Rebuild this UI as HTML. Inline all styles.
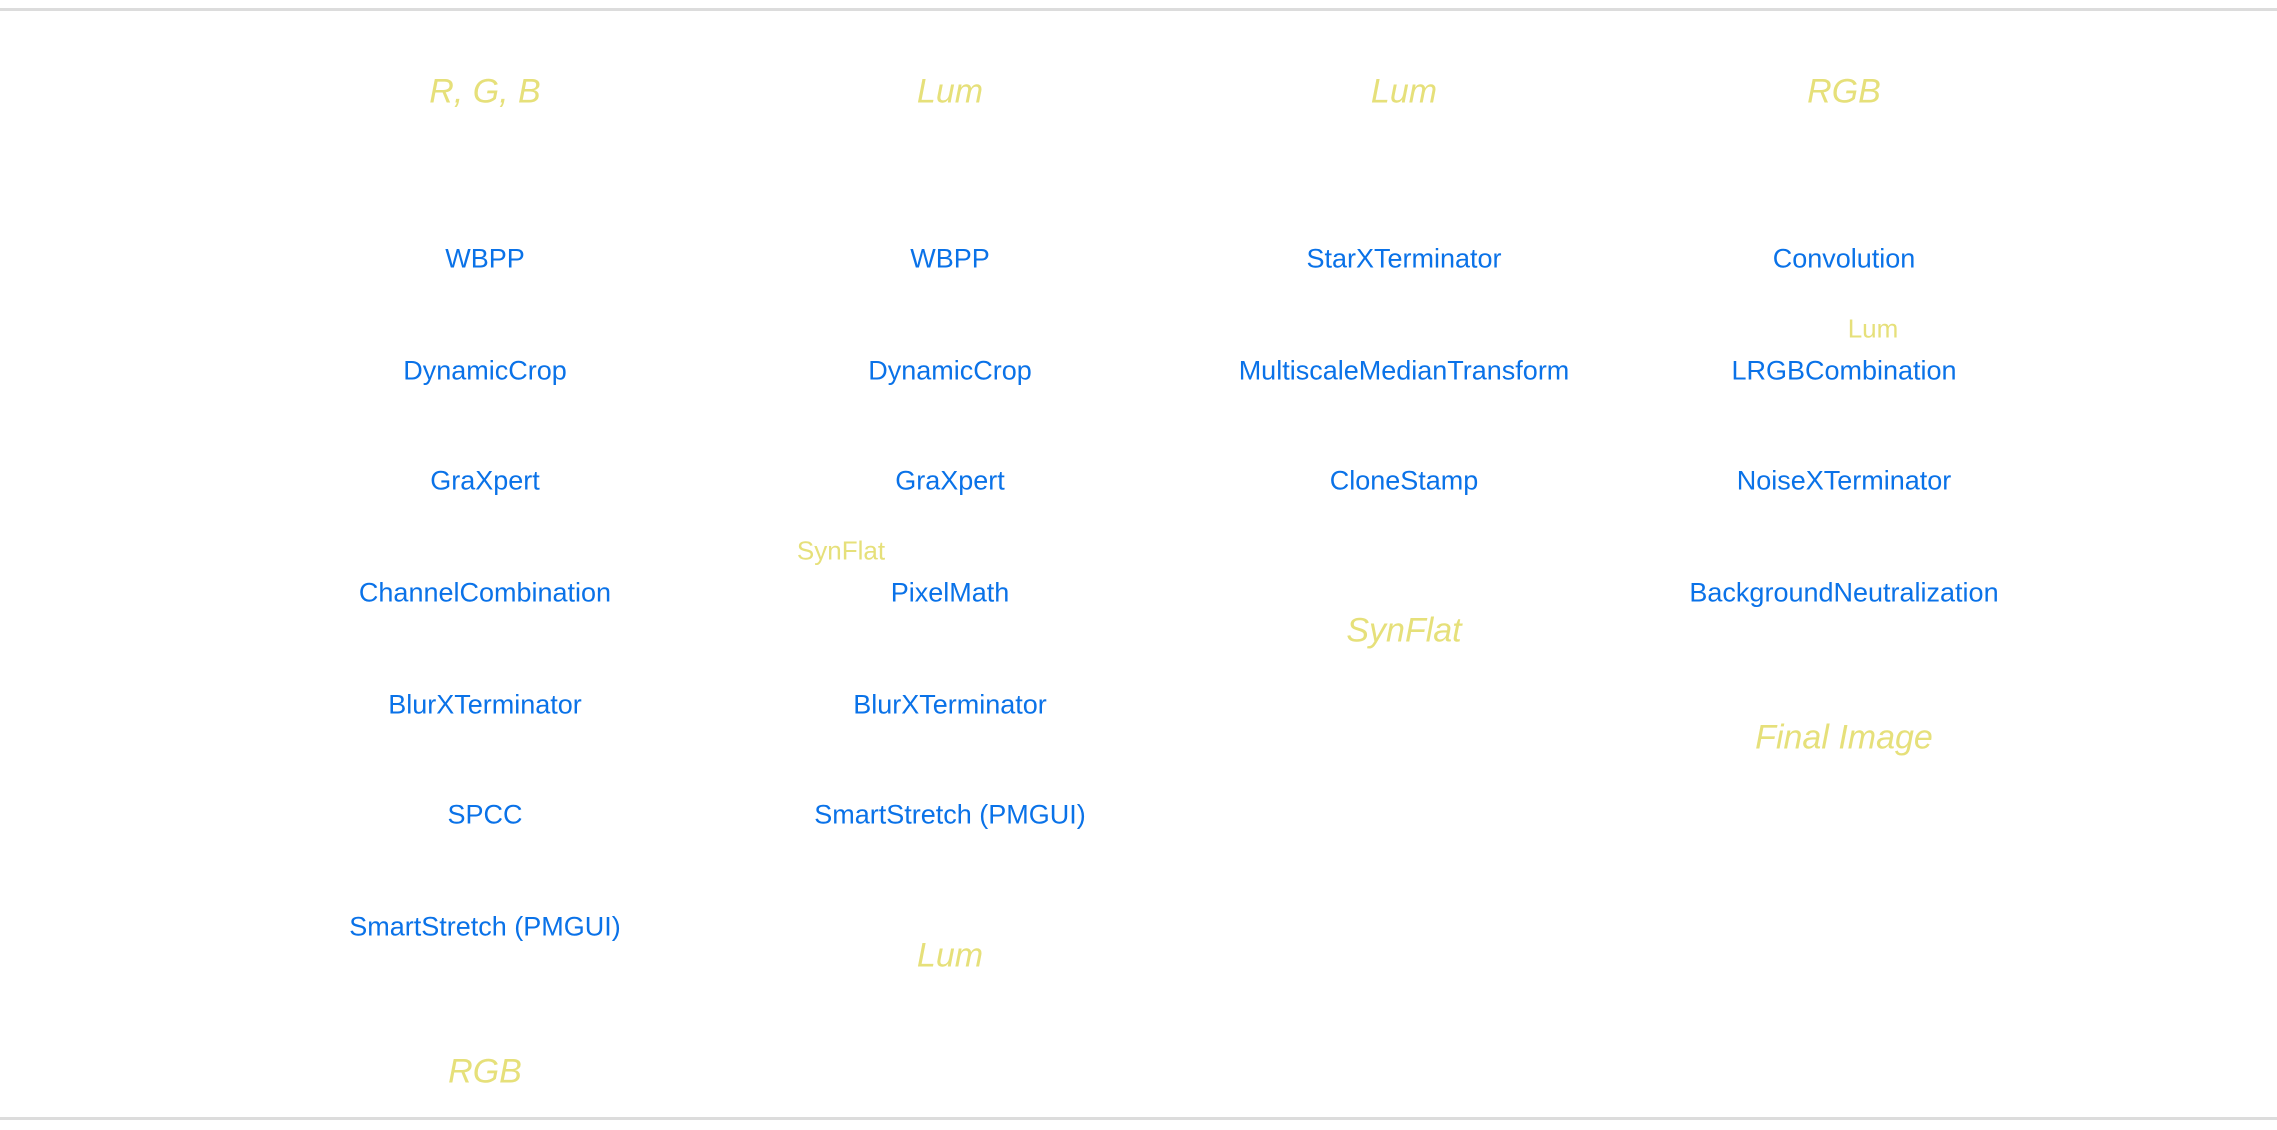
<!DOCTYPE html>
<html><head><meta charset="utf-8"><style>
html,body{margin:0;padding:0;background:#fff;}
body{width:2277px;height:1130px;position:relative;overflow:hidden;font-family:"Liberation Sans",sans-serif;}
.r{position:absolute;left:0;width:2277px;height:3px;background:#dcdcdc;}
.t{position:absolute;transform:translate(-50%,-50%);white-space:nowrap;margin-top:2px;}
.b{color:#0a72e8;font-size:27px;}
.y{color:#e6e07a;font-size:34px;font-style:italic;}
.s{color:#e6e07a;font-size:26px;}
</style></head><body>
<div class="r" style="top:8px"></div>
<div class="r" style="top:1117px"></div>

<div class="t y" style="left:485px;top:90px">R, G, B</div>
<div class="t y" style="left:950px;top:90px">Lum</div>
<div class="t y" style="left:1404px;top:90px">Lum</div>
<div class="t y" style="left:1844px;top:90px">RGB</div>

<div class="t b" style="left:485px;top:257px">WBPP</div>
<div class="t b" style="left:485px;top:369px">DynamicCrop</div>
<div class="t b" style="left:485px;top:479px">GraXpert</div>
<div class="t b" style="left:485px;top:591px">ChannelCombination</div>
<div class="t b" style="left:485px;top:703px">BlurXTerminator</div>
<div class="t b" style="left:485px;top:813px">SPCC</div>
<div class="t b" style="left:485px;top:925px">SmartStretch (PMGUI)</div>
<div class="t y" style="left:485px;top:1070px">RGB</div>

<div class="t b" style="left:950px;top:257px">WBPP</div>
<div class="t b" style="left:950px;top:369px">DynamicCrop</div>
<div class="t b" style="left:950px;top:479px">GraXpert</div>
<div class="t s" style="left:841px;top:549px">SynFlat</div>
<div class="t b" style="left:950px;top:591px">PixelMath</div>
<div class="t b" style="left:950px;top:703px">BlurXTerminator</div>
<div class="t b" style="left:950px;top:813px">SmartStretch (PMGUI)</div>
<div class="t y" style="left:950px;top:954px">Lum</div>

<div class="t b" style="left:1404px;top:257px">StarXTerminator</div>
<div class="t b" style="left:1404px;top:369px">MultiscaleMedianTransform</div>
<div class="t b" style="left:1404px;top:479px">CloneStamp</div>
<div class="t y" style="left:1404px;top:629px">SynFlat</div>

<div class="t b" style="left:1844px;top:257px">Convolution</div>
<div class="t s" style="left:1873px;top:327px">Lum</div>
<div class="t b" style="left:1844px;top:369px">LRGBCombination</div>
<div class="t b" style="left:1844px;top:479px">NoiseXTerminator</div>
<div class="t b" style="left:1844px;top:591px">BackgroundNeutralization</div>
<div class="t y" style="left:1844px;top:736px">Final Image</div>
</body></html>
